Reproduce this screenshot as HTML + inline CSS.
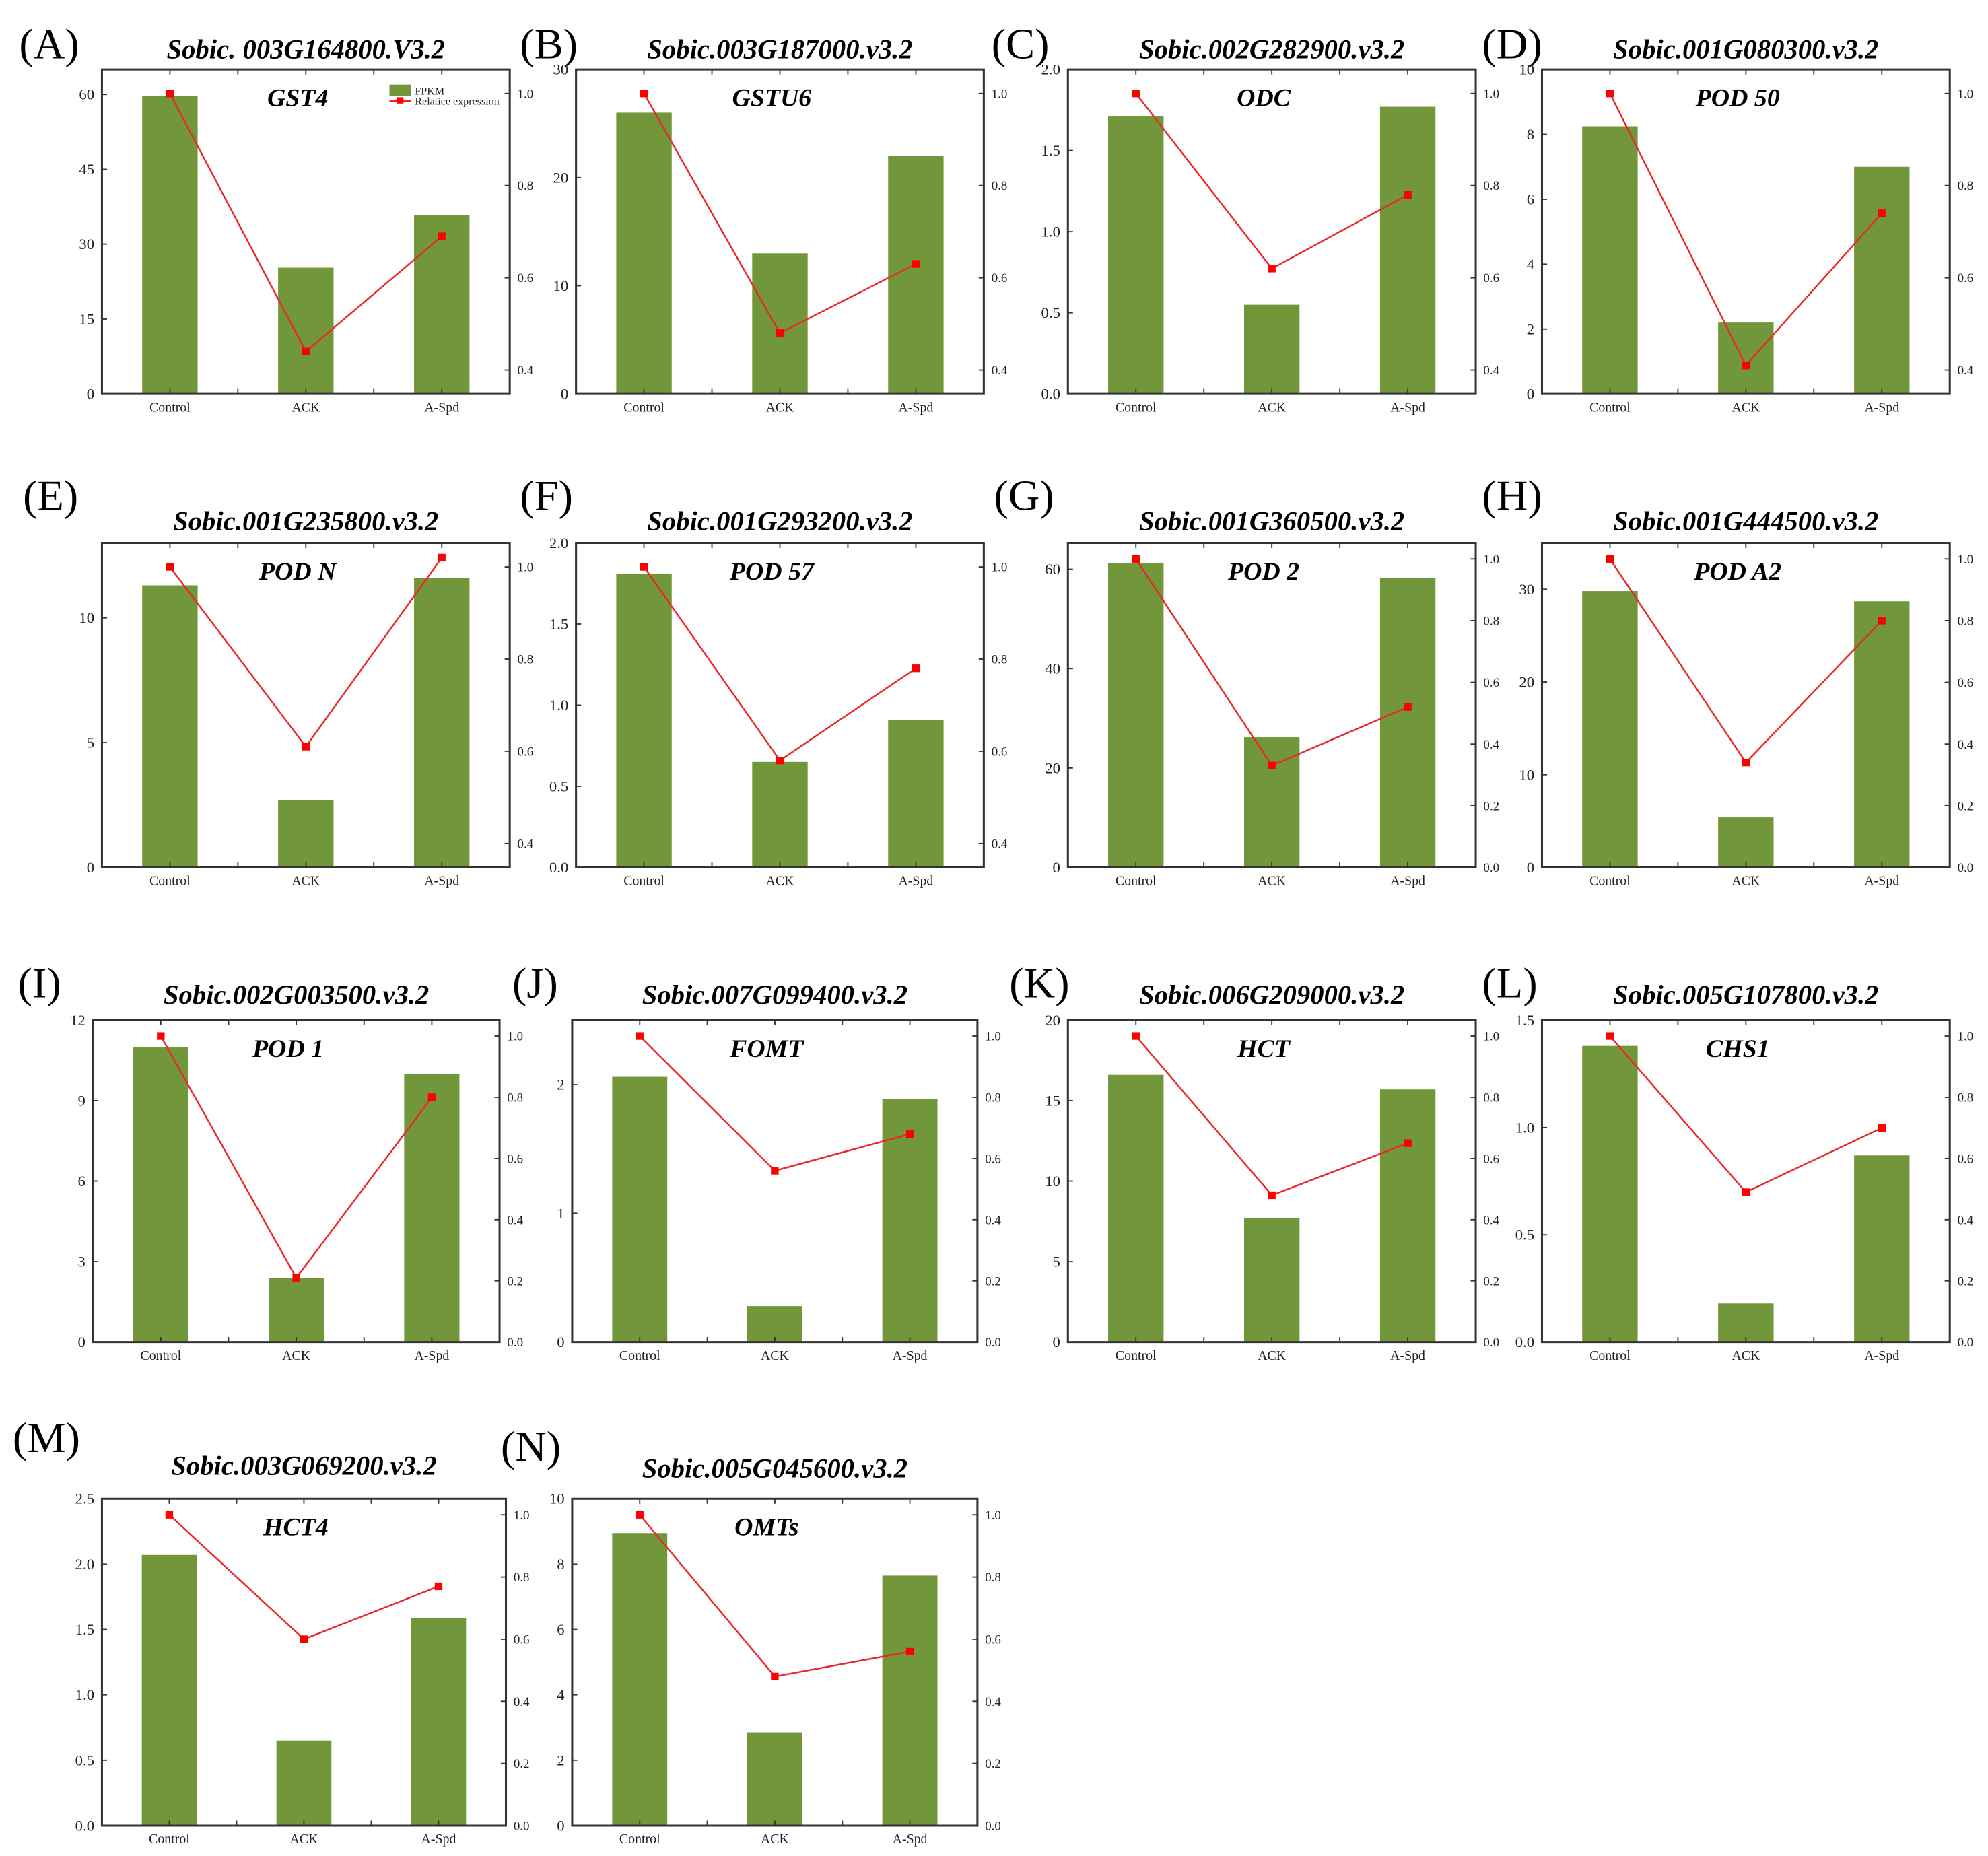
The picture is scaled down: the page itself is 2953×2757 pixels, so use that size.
<!DOCTYPE html>
<html><head><meta charset="utf-8"><style>
html,body{margin:0;padding:0;background:#fff;}
svg{display:block;font-family:"Liberation Serif",serif;}
</style></head><body>
<svg id="fig" width="2953" height="2757" viewBox="0 0 1560 1470" preserveAspectRatio="none" xmlns="http://www.w3.org/2000/svg"></svg>
<script>
const categories = ["Control","ACK","A-Spd"];
const panelLetters = ["A","B","C","D","E","F","G","H","I","J","K","L","M","N"];
const geneIds = ["Sobic. 003G164800.V3.2","Sobic.003G187000.v3.2","Sobic.002G282900.v3.2","Sobic.001G080300.v3.2",
 "Sobic.001G235800.v3.2","Sobic.001G293200.v3.2","Sobic.001G360500.v3.2","Sobic.001G444500.v3.2",
 "Sobic.002G003500.v3.2","Sobic.007G099400.v3.2","Sobic.006G209000.v3.2","Sobic.005G107800.v3.2",
 "Sobic.003G069200.v3.2","Sobic.005G045600.v3.2"];
const geneNames = ["GST4","GSTU6","ODC","POD 50","POD N","POD 57","POD 2","POD A2","POD 1","FOMT","HCT","CHS1","HCT4","OMTs"];
const fpkmValues = [[59.7,25.3,35.8],[26,13,22],[1.71,0.55,1.77],[8.25,2.2,7.0],
 [11.3,2.7,11.6],[1.81,0.65,0.91],[61.3,26.2,58.3],[29.8,5.4,28.7],
 [11.0,2.4,10.0],[2.06,0.28,1.89],[16.6,7.7,15.7],[1.38,0.18,0.87],
 [2.07,0.65,1.59],[8.95,2.85,7.65]];
const relValues = [[1.0,0.44,0.69],[1.0,0.48,0.63],[1.0,0.62,0.78],[1.0,0.41,0.74],
 [1.0,0.61,1.02],[1.0,0.58,0.78],[1.0,0.33,0.52],[1.0,0.34,0.80],
 [1.0,0.21,0.80],[1.0,0.56,0.68],[1.0,0.48,0.65],[1.0,0.49,0.70],
 [1.0,0.60,0.77],[1.0,0.48,0.56]];
const leftMax = [65,30,2.0,10,13,2.0,65.3,35,12,2.5,20,1.5,2.5,10];
const leftTicks = [[0,15,30,45,60],[0,10,20,30],[0,0.5,1,1.5,2],[0,2,4,6,8,10],
 [0,5,10],[0,0.5,1,1.5,2],[0,20,40,60],[0,10,20,30],
 [0,3,6,9,12],[0,1,2],[0,5,10,15,20],[0,0.5,1,1.5],
 [0,0.5,1,1.5,2,2.5],[0,2,4,6,8,10]];
const leftDecimals = [0,0,1,0,0,1,0,0,0,0,0,1,1,0];
const rightMin = [0.348,0.348,0.348,0.348,0.348,0.348,0,0,0,0,0,0,0,0];
const rightTicks = [[0.4,0.6,0.8,1.0],[0.4,0.6,0.8,1.0],[0.4,0.6,0.8,1.0],[0.4,0.6,0.8,1.0],
 [0.4,0.6,0.8,1.0],[0.4,0.6,0.8,1.0],[0,0.2,0.4,0.6,0.8,1.0],[0,0.2,0.4,0.6,0.8,1.0],
 [0,0.2,0.4,0.6,0.8,1.0],[0,0.2,0.4,0.6,0.8,1.0],[0,0.2,0.4,0.6,0.8,1.0],[0,0.2,0.4,0.6,0.8,1.0],
 [0,0.2,0.4,0.6,0.8,1.0],[0,0.2,0.4,0.6,0.8,1.0]];
const RIGHT_MAX = 1.052;

const boxes = [[80,55,400,312],[452,55,772,312],[838,55,1158,312],[1210,55,1530,312],
 [80,430,400,687],[452,430,772,687],[838,430,1158,687],[1210,430,1530,687],
 [73,808,392,1063],[449,808,767,1063],[838,808,1158,1063],[1210,808,1530,1063],
 [80,1187,397,1446],[449,1187,767,1446]];
const letterPos = [[15,46],[408,46],[778,46],[1163,46],[18,404],[408,404],[780,404],[1163,404],
 [14,790],[402,790],[792,790],[1163,790],[10,1150],[393,1157]];
const titleY = [46,46,46,46,420,420,420,420,795,795,795,795,1168,1170];

const svg = document.getElementById('fig');
const NS = 'http://www.w3.org/2000/svg';
function mk(tag, attrs, parent){const e=document.createElementNS(NS,tag);for(const k in attrs)e.setAttribute(k,attrs[k]);(parent||svg).appendChild(e);return e;}

for(let p=0;p<14;p++){
  const [x0,y0,x1,y1]=boxes[p];
  const W=x1-x0,H=y1-y0;
  const g=mk('g',{});
  
  
  const xs=i=>x0+W*(2*i+1)/6;
  const yl=v=>y1-H*v/leftMax[p];
  const yr=v=>y1-H*(v-rightMin[p])/(RIGHT_MAX-rightMin[p]);

  const lt=mk('text',{x:letterPos[p][0],y:letterPos[p][1],'font-size':34},g);lt.textContent='('+panelLetters[p]+')';
  
  
  const tt=mk('text',{x:(x0+x1)/2,y:titleY[p],'font-size':21.5,'font-weight':'bold','font-style':'italic','text-anchor':'middle'},g);tt.textContent=geneIds[p];
  
  

  for(let i=0;i<3;i++){
    const v=fpkmValues[p][i];
    const b=mk('rect',{x:xs(i)-W*0.068,y:yl(v),width:W*0.136,height:y1-yl(v),fill:'#71973a'},g);
    
    
  }
  const pts=relValues[p].map((v,i)=>xs(i)+','+yr(v)).join(' ');
  const ln=mk('polyline',{points:pts,fill:'none',stroke:'#e8282a','stroke-width':1.3},g);
  
  
  relValues[p].forEach((v,i)=>{
    const m=mk('rect',{x:xs(i)-3,y:yr(v)-3,width:6,height:6,fill:'#ff0000'},g);
    
    
  });
  const fr=mk('path',{d:`M${x0},${y0}H${x1}V${y1}H${x0}Z`,fill:'none',stroke:'#333','stroke-width':1.6},g);
  
  
  for(let k=1;k<=5;k++){
    const x=x0+W*k/6;
    mk('line',{x1:x,y1:y1,x2:x,y2:y1-4,stroke:'#333','stroke-width':1},g);
    mk('line',{x1:x,y1:y0,x2:x,y2:y0+4,stroke:'#333','stroke-width':1},g);
  }
  categories.forEach((c,i)=>{
    const t=mk('text',{x:xs(i),y:y1+14,'font-size':10.5,'text-anchor':'middle',fill:'#222'},g);t.textContent=c;
    
    
  });
  leftTicks[p].forEach(v=>{
    const y=yl(v);
    mk('line',{x1:x0,y1:y,x2:x0+4,y2:y,stroke:'#333','stroke-width':1},g);
    const t=mk('text',{x:x0-6,y:y+4,'font-size':12,'text-anchor':'end',fill:'#222'},g);t.textContent=v.toFixed(leftDecimals[p]);
    
    
  });
  rightTicks[p].forEach(v=>{
    const y=yr(v);
    mk('line',{x1:x1,y1:y,x2:x1-4,y2:y,stroke:'#333','stroke-width':1},g);
    const t=mk('text',{x:x1+6,y:y+3.5,'font-size':10,fill:'#222'},g);t.textContent=v.toFixed(1);
    
    
  });
  const gn=mk('text',{x:x0+W*0.48,y:y0+29,'font-size':20,'font-weight':'bold','font-style':'italic','text-anchor':'middle'},g);gn.textContent=geneNames[p];
  
  
  if(p===0){
    const lg=mk('g',{},g);
    
    
    mk('rect',{x:x0+W*0.705,y:y0+12,width:17,height:9,fill:'#71973a'},lg);
    const t1=mk('text',{x:x0+W*0.705+20,y:y0+20,'font-size':8.5,fill:'#222'},lg);t1.textContent='FPKM';
    mk('line',{x1:x0+W*0.705,y1:y0+25,x2:x0+W*0.705+17,y2:y0+25,stroke:'#e8282a','stroke-width':1.2},lg);
    mk('rect',{x:x0+W*0.705+6,y:y0+22,width:5,height:5,fill:'#ff0000'},lg);
    const t2=mk('text',{x:x0+W*0.705+20,y:y0+28,'font-size':8.5,fill:'#222'},lg);t2.textContent='Relatice expression';
  }
}
</script>
</body></html>
